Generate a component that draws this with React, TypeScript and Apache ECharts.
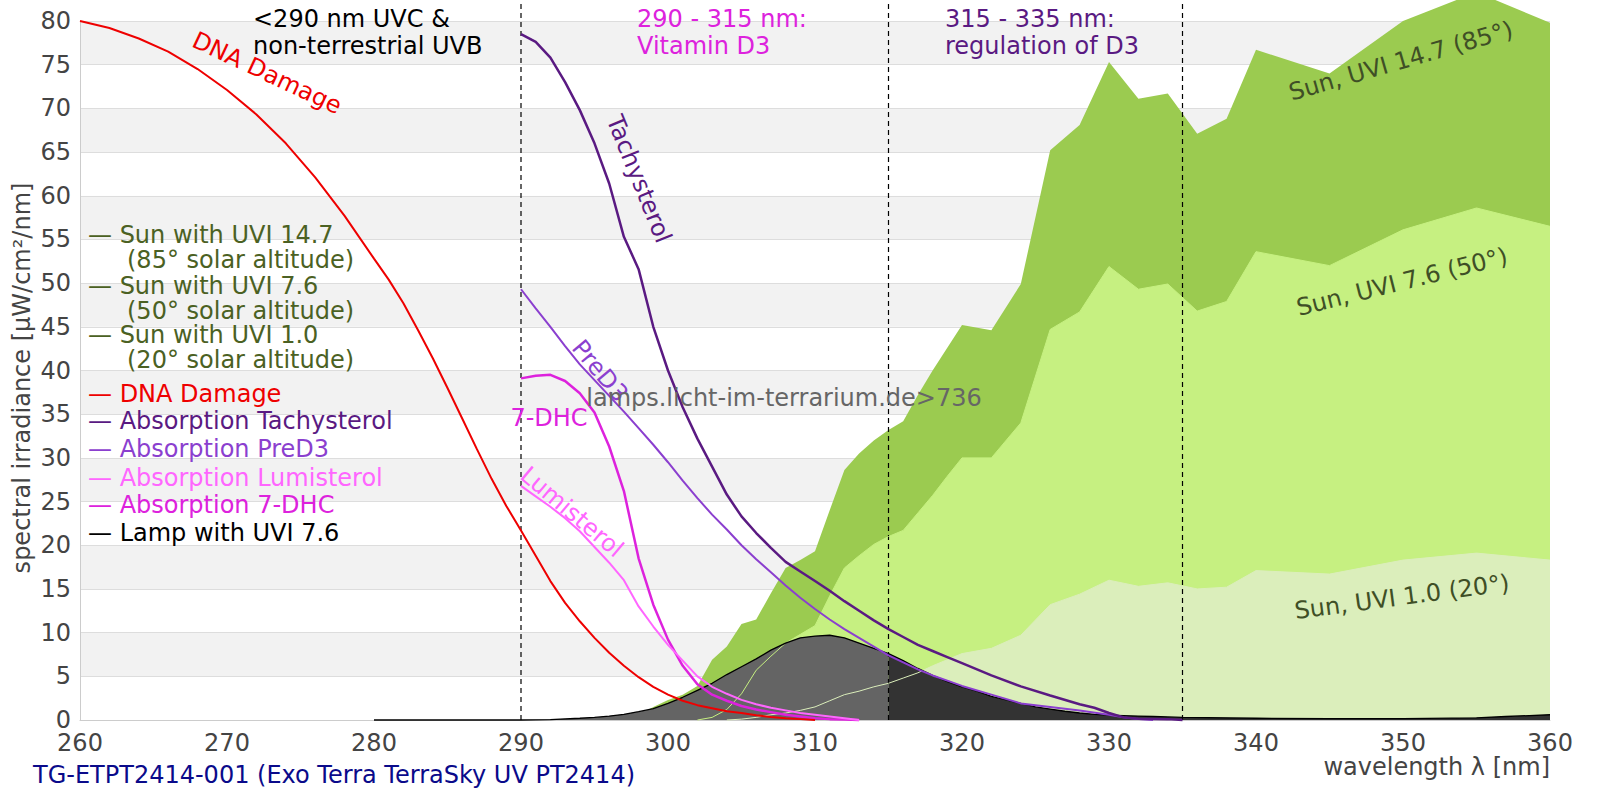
import React, { useEffect, useRef } from "react";
import * as echarts from "echarts";

// ---- data ----
const SUN_WL = [297, 298, 299, 300, 301, 302, 303, 304, 305, 306, 307, 308, 309, 310, 311, 312, 313, 314, 315, 316, 317, 318, 319, 320, 322, 324, 326, 328, 330, 332, 334, 336, 338, 340, 345, 350, 355, 360];
const SUN_147 = [0, 0.6, 1.5, 2.3, 2.9, 3.9, 6.9, 8.4, 11.0, 11.5, 14.5, 17.4, 18.3, 19.3, 24.0, 28.6, 30.5, 32.0, 33.2, 34.2, 37.2, 40.0, 42.6, 45.2, 44.6, 49.9, 65.2, 68.1, 75.3, 71.1, 71.7, 67.1, 68.8, 76.7, 74.0, 80.0, 83.3, 79.8];
const SUN_76 = [0, 0, 0, 0, 0, 0, 0.3, 1.2, 3.0, 5.7, 7.3, 8.8, 9.8, 10.8, 14.2, 17.4, 18.8, 20.1, 21.0, 21.7, 23.7, 25.7, 27.9, 30.0, 30.0, 34.0, 44.7, 46.7, 51.9, 49.3, 49.9, 46.8, 47.9, 53.6, 52.0, 56.1, 58.6, 56.5];
const SUN_10 = [0, 0, 0, 0, 0, 0, 0, 0, 0.1, 0.3, 0.6, 0.8, 1.1, 1.5, 2.2, 2.9, 3.3, 3.8, 4.2, 4.8, 5.4, 6.2, 6.9, 7.6, 8.2, 9.7, 13.2, 14.4, 16.0, 15.3, 15.7, 15.0, 15.2, 17.1, 16.7, 18.3, 19.1, 18.3];

const DNA_WL = [260, 262, 264, 266, 268, 270, 272, 274, 276, 278, 280, 281, 282, 283, 284, 285, 286, 287, 288, 289, 290, 291, 292, 293, 294, 295, 296, 297, 298, 299, 300, 301, 302, 303, 304, 305, 306, 307, 308, 309, 310];
const DNA_VAL = [80.0, 79.2, 78.0, 76.5, 74.5, 72.1, 69.3, 66.0, 62.1, 57.7, 52.8, 50.4, 47.7, 44.6, 41.4, 38.0, 34.5, 31.0, 27.6, 24.5, 21.7, 18.8, 15.9, 13.4, 11.3, 9.4, 7.7, 6.2, 4.9, 3.8, 2.9, 2.2, 1.7, 1.35, 1.0, 0.8, 0.55, 0.35, 0.2, 0.1, 0];

const TACHY_WL = [290, 291, 292, 293, 294, 295, 296, 297, 298, 299, 300, 301, 302, 303, 304, 305, 306, 307, 308, 309, 310, 311, 312, 313, 314, 315, 316, 317, 318, 319, 320, 322, 324, 326, 328, 329, 330, 331, 332, 334, 335];
const TACHY_VAL = [78.5, 77.6, 75.8, 73.0, 69.8, 66.0, 61.4, 55.3, 51.6, 45.0, 40.0, 35.8, 32.2, 29.0, 25.8, 23.3, 21.4, 19.7, 18.1, 17.0, 15.9, 14.8, 13.6, 12.5, 11.4, 10.4, 9.5, 8.6, 7.9, 7.2, 6.5, 5.1, 3.85, 2.8, 1.8, 1.4, 0.8, 0.3, 0.15, 0.1, 0];

const PRED3_WL = [290, 291, 292, 293, 294, 295, 296, 297, 298, 299, 300, 301, 302, 303, 304, 305, 306, 307, 308, 309, 310, 311, 312, 313, 314, 315, 316, 317, 318, 319, 320, 322, 324, 326, 328, 330, 331, 332, 333];
const PRED3_VAL = [49.3, 47.1, 45.0, 42.8, 40.7, 38.9, 37.1, 35.3, 33.4, 31.5, 29.5, 27.4, 25.4, 23.5, 21.8, 20.0, 18.4, 16.9, 15.4, 14.0, 12.7, 11.5, 10.4, 9.4, 8.4, 7.4, 6.6, 5.8, 5.1, 4.5, 3.9, 2.9, 1.9, 1.5, 1.1, 0.6, 0.3, 0.1, 0];

const LUMI_WL = [290, 291, 292, 293, 294, 295, 296, 297, 298, 299, 300, 301, 302, 303, 304, 305, 306, 307, 308, 309, 310, 311, 312, 313];
const LUMI_VAL = [26.8, 25.6, 24.4, 23.1, 21.6, 19.8, 18.0, 16.0, 13.0, 10.7, 8.6, 6.8, 5.0, 3.8, 3.0, 2.3, 1.8, 1.4, 1.1, 0.8, 0.6, 0.4, 0.2, 0];

const DHC_WL = [290, 291, 292, 293, 294, 295, 296, 297, 298, 299, 300, 301, 302, 303, 304, 305, 306, 307, 308, 309, 310, 311, 312, 313];
const DHC_VAL = [39.1, 39.4, 39.5, 38.8, 37.4, 35.2, 31.3, 26.2, 18.5, 13.2, 9.2, 6.2, 4.1, 2.9, 2.2, 1.6, 1.2, 0.9, 0.6, 0.4, 0.2, 0.1, 0.05, 0];

const LAMP_WL = [280, 290, 292, 294, 295, 296, 297, 298, 299, 300, 301, 302, 303, 304, 305, 306, 307, 308, 309, 310, 311, 312, 313, 314, 315, 316, 317, 318, 319, 320, 321, 322, 323, 324, 325, 326, 327, 328, 329, 330, 331, 332, 333, 334, 335, 340, 345, 350, 355, 357, 360];
const LAMP_VAL = [0, 0, 0.05, 0.2, 0.3, 0.45, 0.65, 0.95, 1.3, 1.9, 2.6, 3.4, 4.2, 5.2, 6.1, 7.0, 8.0, 8.8, 9.4, 9.6, 9.7, 9.4, 8.8, 8.2, 7.6, 6.8, 5.9, 5.1, 4.4, 3.8, 3.3, 2.7, 2.3, 1.9, 1.5, 1.25, 1.0, 0.8, 0.65, 0.55, 0.5, 0.45, 0.4, 0.35, 0.3, 0.2, 0.15, 0.15, 0.25, 0.4, 0.6];

const REGION_BOUNDS = [290, 315, 335];
const VLINE_TOP = 82.4;

const X_MIN = 260;
const X_MAX = 360;
const Y_MIN = 0;
const Y_MAX = 80;

const LEGEND_SUN = [
  ["Sun with UVI 14.7", "(85° solar altitude)"],
  ["Sun with UVI 7.6", "(50° solar altitude)"],
  ["Sun with UVI 1.0", "(20° solar altitude)"],
];
const LEGEND_OTHER = [
  "DNA Damage",
  "Absorption Tachysterol",
  "Absorption PreD3",
  "Absorption Lumisterol",
  "Absorption 7-DHC",
  "Lamp with UVI 7.6",
];

const TITLE_BOTTOM = "TG-ETPT2414-001 (Exo Terra TerraSky UV PT2414)";
const X_NAME = "wavelength λ [nm]";
const Y_NAME = "spectral irradiance [µW/cm²/nm]";
const WATERMARK = "lamps.licht-im-terrarium.de>736";

const C_SUN147 = "#9bcb50";
const C_SUN76 = "#c6f081";
const C_SUN10 = "#dbeebb";
const C_DNA = "#ee0000";
const C_TACHY = "#5a1a82";
const C_PRED3 = "#8b3fcf";
const C_LUMI = "#ff66ff";
const C_DHC = "#dd22dd";
const C_OLIVE = "#4b6123";
const FONT = "DejaVu Sans";
const FS = 24;

const pairs = (wl: number[], v: number[]) => wl.map((w, i) => [w, v[i]]);
// drop the leading run of zeros except the last one (so the outline starts where the curve leaves 0)
const trimLeadingZeros = (d: number[][]) => {
  let i = 0;
  while (i + 1 < d.length && d[i + 1][1] === 0) i++;
  return d.slice(i);
};

export default function App() {
  const ref = useRef<HTMLDivElement>(null);
  useEffect(() => {
    document.body.style.margin = "0";
    const chart = echarts.init(ref.current!, undefined, { renderer: "svg" });

    const lamp = pairs(LAMP_WL, LAMP_VAL);
    const lampA = lamp.filter((p) => p[0] <= 315);
    const lampB = lamp.filter((p) => p[0] >= 315);

    const area = (name: string, data: number[][], color: string) => ({
      name,
      type: "line",
      data,
      showSymbol: false,
      clip: false,
      lineStyle: { width: 0 },
      areaStyle: { color, opacity: 1 },
      silent: true,
    });
    const line = (name: string, data: number[][], color: string, width: number) => ({
      name,
      type: "line",
      data,
      showSymbol: false,
      clip: false,
      lineStyle: { color, width },
      silent: true,
    });

    const series: any[] = [
      area("sun147", pairs(SUN_WL, SUN_147), C_SUN147),
      area("sun76", pairs(SUN_WL, SUN_76), C_SUN76),
      area("sun10", pairs(SUN_WL, SUN_10), C_SUN10),
      ...REGION_BOUNDS.map((w) => ({
        type: "line",
        data: [[w, 0], [w, VLINE_TOP]],
        showSymbol: false,
        clip: false,
        lineStyle: { color: "#000", width: 1.2, type: [5, 4] },
        silent: true,
      })),
      area("lampA", lampA, "#646464"),
      area("lampB", lampB, "#333333"),
      line("sun76line", trimLeadingZeros(pairs(SUN_WL, SUN_76)), C_SUN76, 1),
      line("sun10line", trimLeadingZeros(pairs(SUN_WL, SUN_10)), C_SUN10, 1),
      line("lamp", lamp, "#000000", 1.3),
      line("dhc", pairs(DHC_WL, DHC_VAL), C_DHC, 2.5),
      line("lumi", pairs(LUMI_WL, LUMI_VAL), C_LUMI, 2),
      line("pred3", pairs(PRED3_WL, PRED3_VAL), C_PRED3, 2),
      line("tachy", pairs(TACHY_WL, TACHY_VAL), C_TACHY, 2.5),
      line("dna", pairs(DNA_WL, DNA_VAL), C_DNA, 2),
    ];

    const txt = (
      text: string,
      x: number,
      y: number,
      fill: string,
      opts: any = {}
    ) => ({
      type: "text",
      x,
      y,
      rotation: ((opts.rot || 0) * Math.PI) / 180,
      z: 100,
      silent: true,
      style: {
        text,
        fill,
        fontSize: opts.size || FS,
        fontFamily: FONT,
        align: opts.align || "left",
        verticalAlign: opts.va || "middle",
        lineHeight: opts.lh || 27,
      },
    });

    const legendSunY = [234.7, 285.7, 334.7];
    const legendOtherY = [393.9, 421.4, 449, 477.6, 505.1, 532.7];
    const legendOtherColors = [C_DNA, C_TACHY, C_PRED3, C_LUMI, C_DHC, "#000000"];

    const graphic: any[] = [];
    LEGEND_SUN.forEach((l, i) => {
      graphic.push(txt("— " + l[0], 88, legendSunY[i], C_OLIVE));
      graphic.push(txt(l[1], 127, legendSunY[i] + 25.5, C_OLIVE));
    });
    LEGEND_OTHER.forEach((l, i) => {
      graphic.push(txt("— " + l, 88, legendOtherY[i], legendOtherColors[i]));
    });
    graphic.push(txt("<290 nm UVC &\nnon-terrestrial UVB", 253, 5, "#000", { va: "top" }));
    graphic.push(txt("290 - 315 nm:\nVitamin D3", 637, 5, C_DHC, { va: "top" }));
    graphic.push(txt("315 - 335 nm:\nregulation of D3", 945, 5, C_TACHY, { va: "top" }));
    graphic.push(txt("DNA Damage", 267, 73, C_DNA, { align: "center", rot: -25 }));
    graphic.push(txt("Tachysterol", 639, 179, C_TACHY, { align: "center", rot: -68 }));
    graphic.push(txt("PreD3", 600, 371, C_PRED3, { align: "center", rot: -50 }));
    graphic.push(txt("7-DHC", 549, 418, C_DHC, { align: "center" }));
    graphic.push(txt("Lumisterol", 572, 512, C_LUMI, { align: "center", rot: -40 }));
    graphic.push(txt(WATERMARK, 784, 398, "#666666", { align: "center" }));
    graphic.push(txt("Sun, UVI 14.7 (85°)", 1401, 61, "#3f4f26", { align: "center", rot: 16 }));
    graphic.push(txt("Sun, UVI 7.6 (50°)", 1402, 282, "#3f4f26", { align: "center", rot: 14 }));
    graphic.push(txt("Sun, UVI 1.0 (20°)", 1402, 597, "#3f4f26", { align: "center", rot: 7.5 }));
    graphic.push(txt(Y_NAME, 21.5, 378, "#444444", { align: "center", rot: 90 }));
    graphic.push(txt(X_NAME, 1550, 767, "#444444", { align: "right" }));
    graphic.push(txt(TITLE_BOTTOM, 33, 775, "#0a0a8a"));

    chart.setOption({
      animation: false,
      textStyle: { fontFamily: FONT },
      grid: { left: 80, right: 50, top: 21, bottom: 80, containLabel: false },
      xAxis: {
        type: "value",
        min: X_MIN,
        max: X_MAX,
        interval: 10,
        axisLine: { show: true, lineStyle: { color: "#cccccc" } },
        axisTick: { show: false },
        axisLabel: { color: "#444444", fontSize: FS, margin: 11 },
        splitLine: { show: false },
      },
      yAxis: {
        type: "value",
        min: Y_MIN,
        max: Y_MAX,
        interval: 5,
        axisLine: { show: true, lineStyle: { color: "#cccccc" } },
        axisTick: { show: false },
        axisLabel: { color: "#444444", fontSize: FS, margin: 9 },
        splitLine: { show: true, lineStyle: { color: "#dddddd", width: 1 } },
        splitArea: { show: true, areaStyle: { color: ["#ffffff", "#f2f2f2"] } },
      },
      series,
      graphic,
    });
    return () => chart.dispose();
  }, []);
  return <div ref={ref} style={{ width: 1600, height: 800 }} />;
}
